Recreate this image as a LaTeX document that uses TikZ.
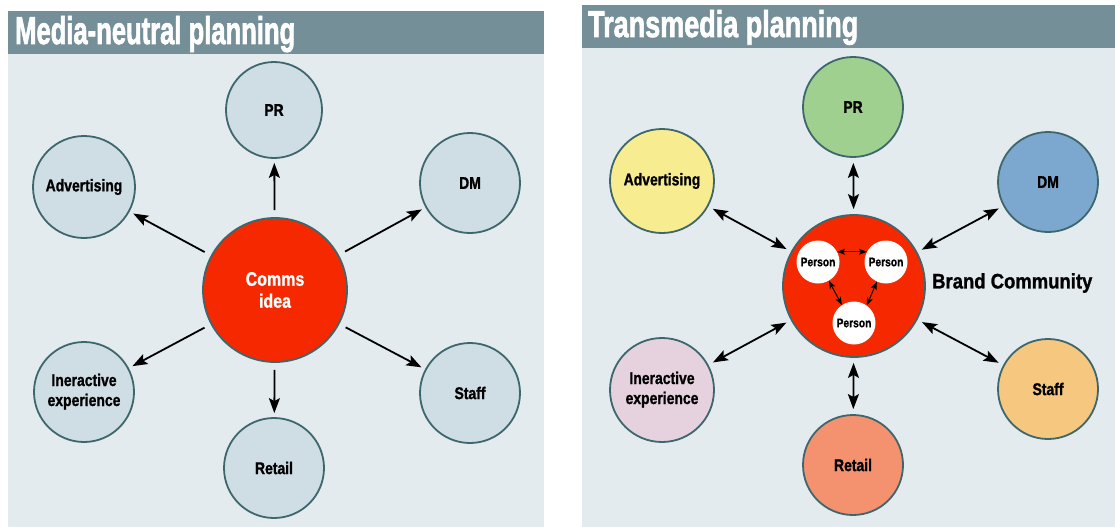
\documentclass[tikz,border=0pt]{standalone}
\usepackage{fontspec}
\setmainfont{Liberation Sans}
\newfontfamily\hvy[FakeBold=1.2]{Liberation Sans Bold}
\newfontfamily\hvyt[FakeBold=2.2]{Liberation Sans Bold}
\usetikzlibrary{arrows.meta}
\definecolor{hdr}{HTML}{758F99}
\definecolor{bgc}{HTML}{E3EBEF}
\definecolor{edgec}{HTML}{3D676C}
\definecolor{grayc}{HTML}{CFDDE4}
\definecolor{redc}{HTML}{F52800}
\definecolor{prc}{HTML}{9FD08F}
\definecolor{advc}{HTML}{F8EC90}
\definecolor{dmc}{HTML}{7CA7CF}
\definecolor{staffc}{HTML}{F5C77F}
\definecolor{retc}{HTML}{F4916F}
\definecolor{intc}{HTML}{E6D1DE}
\newcommand{\cnd}[1]{\scalebox{0.82}[1]{#1}}
\tikzset{
  panel/.style={fill=bgc, draw=none},
  header/.style={fill=hdr, draw=none},
  outer/.style={circle, draw=edgec, line width=1.8pt, minimum size=#1, inner sep=0pt,
    font=\fontsize{17}{20}\selectfont\hvy, text=black},
  hub/.style={circle, draw=edgec, line width=1.8pt, fill=redc, minimum size=#1, inner sep=0pt},
  person/.style={circle, fill=white, minimum size=43pt, inner sep=0pt,
    font=\fontsize{12.5}{14}\selectfont\hvy},
  arr/.style={-{Stealth[length=15pt,width=11pt,inset=3pt]}, line width=1.8pt, black, shorten <=7pt, shorten >=4pt},
  darr/.style={{Stealth[length=15pt,width=11pt,inset=3pt]}-{Stealth[length=15pt,width=11pt,inset=3pt]}, line width=1.8pt, black, shorten <=5pt, shorten >=5pt},
  parr/.style={{Stealth[length=8pt,width=6pt,inset=2pt]}-{Stealth[length=8pt,width=6pt,inset=2pt]}, line width=1pt, black},
  ttl/.style={anchor=base west, inner sep=0pt, text=white, font=\hvyt},
}
\begin{document}
\begin{tikzpicture}[x=1pt,y=-1pt]
\useasboundingbox (0,0) rectangle (1115,527);
\fill[white] (0,0) rectangle (1115,527);
% panels
\fill[panel] (8,11) rectangle (544,527);
\fill[header] (8,11) rectangle (544,54);
\fill[panel] (582,5) rectangle (1115,527);
\fill[header] (582,5) rectangle (1115,48);
\node[ttl] (t1) at (15,44) {\resizebox{280pt}{28pt}{Media-neutral planning}};
\node[ttl] (t2) at (588,37) {\resizebox{270pt}{27pt}{Transmedia planning}};
% ---------- left diagram
\node[hub=144pt] (comms) at (275,290) {\cnd{\parbox{100pt}{\centering\color{white}\fontsize{19.5}{22}\selectfont\hvy Comms\\idea}}};
\node[outer=96pt, fill=grayc] (lpr) at (274,110) {\cnd{PR}};
\node[outer=102pt, fill=grayc] (ladv) at (84,187) {\cnd{Advertising}};
\node[outer=100pt, fill=grayc] (ldm) at (470,183) {\cnd{DM}};
\node[outer=100pt, fill=grayc] (lint) at (84,392) {\cnd{\begin{tabular}{@{}c@{}}Ineractive\\experience\end{tabular}}};
\node[outer=100pt, fill=grayc] (lret) at (274,468) {\cnd{Retail}};
\node[outer=100pt, fill=grayc] (lstaff) at (470,393) {\cnd{Staff}};
\foreach \t in {lpr,ladv,ldm,lint,lret,lstaff} \draw[arr] (comms) -- (\t);
% ---------- right diagram
\node[hub=142pt] (brand) at (854,286) {};
\node[person] (p1) at (818,262) {\cnd{Person}};
\node[person] (p2) at (886,262) {\cnd{Person}};
\node[person] (p3) at (854,323) {\cnd{Person}};
\draw[parr] (p1.28) -- (p2.152);
\draw[parr] (p1.-60) -- (p3.124);
\draw[parr] (p2.-115) -- (p3.54);
\node[anchor=west, inner sep=0pt, font=\fontsize{21}{24}\selectfont\hvy] (bc) at (932,283) {\scalebox{0.88}[1]{Brand Community}};
\node[outer=100pt, fill=prc] (rpr) at (853,107) {\cnd{PR}};
\node[outer=104pt, fill=advc] (radv) at (662,181) {\cnd{Advertising}};
\node[outer=100pt, fill=dmc] (rdm) at (1048,182) {\cnd{DM}};
\node[outer=104pt, fill=intc] (rint) at (662,390) {\cnd{\begin{tabular}{@{}c@{}}Ineractive\\experience\end{tabular}}};
\node[outer=100pt, fill=retc] (rret) at (853,465) {\cnd{Retail}};
\node[outer=100pt, fill=staffc] (rstaff) at (1048,389) {\cnd{Staff}};
\foreach \t in {rpr,radv,rdm,rint,rret,rstaff} \draw[darr] (brand) -- (\t);
\end{tikzpicture}
\end{document}
